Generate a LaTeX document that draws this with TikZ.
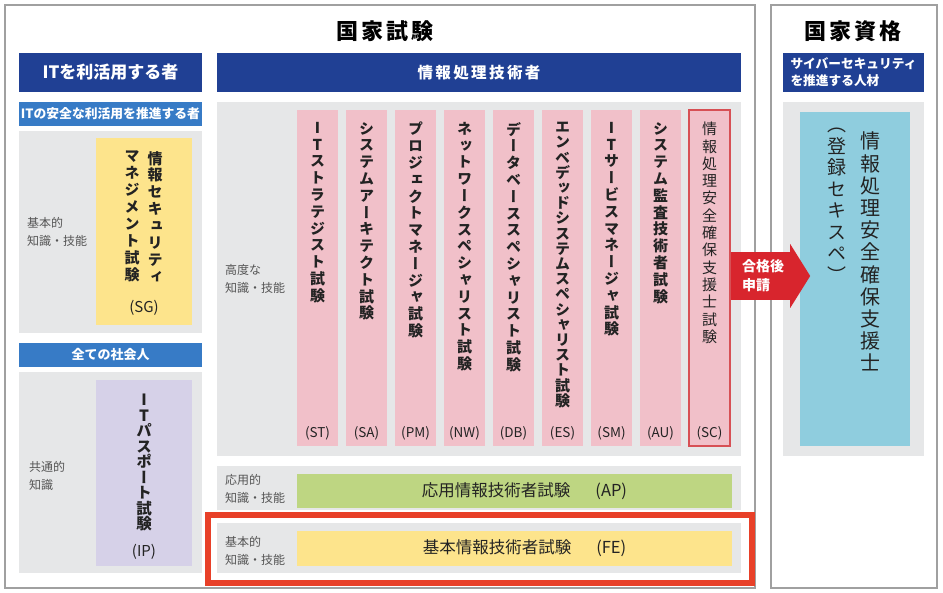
\documentclass[tikz,border=0pt]{standalone}
\usepackage{fontspec}
\setmainfont{Noto Sans CJK JP}
\newfontfamily\tatefont[RawFeature=+vert]{Noto Sans CJK JP}
\usetikzlibrary{positioning}
\usetikzlibrary{shapes.arrows}
\usetikzlibrary{calc}
\definecolor{navy}{RGB}{32,64,148}
\definecolor{skyblue}{RGB}{55,123,198}
\definecolor{panelgray}{RGB}{230,231,232}
\definecolor{framegray}{RGB}{160,160,160}
\definecolor{pinkbox}{RGB}{241,192,201}
\definecolor{yellowbox}{RGB}{253,228,140}
\definecolor{lavbox}{RGB}{214,209,232}
\definecolor{greenbox}{RGB}{190,214,130}
\definecolor{bluebox}{RGB}{143,205,222}
\definecolor{hlred}{RGB}{232,64,40}
\definecolor{arrowred}{RGB}{216,37,45}
\definecolor{scred}{RGB}{215,80,85}
\definecolor{labelgray}{RGB}{85,85,85}
\definecolor{textdark}{RGB}{35,35,35}
% one character per line, for vertical writing
\newcommand\tate[2][16.8pt]{\tatefont\vbox{\baselineskip=#1\relax\lineskiplimit=-100pt\lineskip=0pt\expandafter\tateloop#2\relax}}
\def\tateloop#1{\ifx\relax#1\else\hbox to 1em{\hss#1\hss}\expandafter\tateloop\fi}

\begin{document}
\begin{tikzpicture}[x=1pt, y=-1pt,
        blk/.style={anchor=north west, inner sep=0pt, outer sep=0pt},
        frame/.style={blk, draw=framegray, line width=1.2pt, fill=white},
        vtext/.style={anchor=north, inner sep=0pt, text=textdark},
        code/.style={inner sep=0pt, text=textdark, font=\fontsize{13.5}{14}\selectfont},
        level/.style={anchor=west, inner sep=0pt, align=left, text=labelgray, font=\fontsize{12}{18}\selectfont}]
    \useasboundingbox (0,0) rectangle (943,593);

    % outer frames and titles
    \node [frame, minimum width=750pt, minimum height=583pt] (examFrame) at (5,5) {};
    \node [frame, minimum width=166pt, minimum height=583pt] (qualFrame) at (771,5) {};
    \node [font=\bfseries\fontsize{22}{22}\selectfont] (examTitle) at (385,31) {国\kern3pt 家\kern3pt 試\kern3pt 験};
    \node [font=\bfseries\fontsize{22}{22}\selectfont] (qualTitle) at (853,31) {国\kern3pt 家\kern3pt 資\kern3pt 格};

    % header bars
    \node [blk, fill=navy, text=white, minimum width=183pt, minimum height=39pt, font=\bfseries\fontsize{17}{17}\selectfont]
        (userHead) at (19,53) {ITを利活用する者};
    \node [blk, fill=navy, text=white, minimum width=524pt, minimum height=39pt, font=\bfseries\fontsize{15.5}{16}\selectfont]
        (engHead) at (217,53) {情\kern2.4pt 報\kern2.4pt 処\kern2.4pt 理\kern2.4pt 技\kern2.4pt 術\kern2.4pt 者};
    \node [blk, fill=navy, text=white, minimum width=141pt, minimum height=39pt, align=left, font=\bfseries\fontsize{12.7}{17}\selectfont]
        (cyberHead) at (783,53) {サイバーセキュリティ\\を推進する人材};
    \node [blk, fill=skyblue, text=white, minimum width=183pt, minimum height=24pt, font=\bfseries\fontsize{12.8}{13}\selectfont]
        (safeHead) at (19,102) {ITの安全な利活用を推進する者};
    \node [blk, fill=skyblue, text=white, minimum width=183pt, minimum height=24pt, font=\bfseries\fontsize{13}{13}\selectfont]
        (allHead) at (19,343) {全ての社会人};

    % gray panels
    \node [blk, fill=panelgray, minimum width=183pt, minimum height=202pt] (pSG) at (19,131) {};
    \node [blk, fill=panelgray, minimum width=183pt, minimum height=201pt] (pIP) at (19,372) {};
    \node [blk, fill=panelgray, minimum width=524pt, minimum height=354pt] (pAdv) at (217,102) {};
    \node [blk, fill=panelgray, minimum width=524pt, minimum height=44pt] (pAP) at (217,466) {};
    \node [blk, fill=panelgray, minimum width=524pt, minimum height=50pt] (pFE) at (217,523) {};
    \node [blk, fill=panelgray, minimum width=141pt, minimum height=354pt] (pReg) at (783,102) {};

    \node [level] (lvSG) at (27,232) {基本的\\知識・技能};
    \node [level] (lvIP) at (29,476) {共通的\\知識};
    \node [level] (lvAdv) at (225,279) {高度な\\知識・技能};
    \node [level] (lvAP) at (225,489) {応用的\\知識・技能};
    \node [level] (lvFE) at (225,551) {基本的\\知識・技能};

    % SG and IP
    \node [blk, fill=yellowbox, minimum width=96pt, minimum height=187pt] (bSG) at (96,138) {};
    \node [vtext, font=\bfseries\fontsize{15}{16}\selectfont, below=13pt of bSG.north, xshift=11pt] (nameSG1) {\tate[16.9pt]{情報セキュリティ}};
    \node [vtext, font=\bfseries\fontsize{15}{16}\selectfont, below=13pt of bSG.north, xshift=-12pt] (nameSG2) {\tate[16.9pt]{マネジメント試験}};
    \node [code, font=\fontsize{15}{16}\selectfont] (codeSG) at (144,308) {(SG)};

    \node [blk, fill=lavbox, minimum width=96pt, minimum height=186pt] (bIP) at (96,380) {};
    \node [vtext, font=\bfseries\fontsize{15.5}{16}\selectfont, below=14pt of bIP.north] (nameIP) {\tate[15.5pt]{ITパスポート試験}};
    \node [code, font=\fontsize{15}{16}\selectfont] (codeIP) at (144,552) {(IP)};

    % advanced exams
    \foreach \i/\code/\pitch/\name in {0/ST/16.8/ITストラテジスト試験, 1/SA/16.8/システムアーキテクト試験,
            2/PM/16.8/プロジェクトマネージャ試験, 3/NW/16.8/ネットワークスペシャリスト試験,
            4/DB/16.8/データベーススペシャリスト試験, 5/ES/15.2/エンベデッドシステムスペシャリスト試験,
            6/SM/16.8/ITサービスマネージャ試験, 7/AU/16.8/システム監査技術者試験} {
        \node [blk, fill=pinkbox, minimum width=41pt, minimum height=336pt] (col\code) at ({297+49*\i},110) {};
        \node [vtext, font=\bfseries\fontsize{15}{16}\selectfont, below=12pt of col\code.north] (name\code) {\tate[\pitch pt]{\name}};
        \node [code, above=6pt of col\code.south] (code\code) {(\code)};
    }
    \node [blk, fill=pinkbox, draw=scred, line width=1.2pt, minimum width=41pt, minimum height=336pt] (colSC) at (689,110) {};
    \node [vtext, font=\fontsize{15}{16}\selectfont, below=12pt of colSC.north] (nameSC) {\tate[17.3pt]{情報処理安全確保支援士試験}};
    \node [code, above=6pt of colSC.south] (codeSC) {(SC)};

    % AP and FE
    \node [blk, fill=greenbox, minimum width=435pt, minimum height=34pt] (bAP) at (297,474) {};
    \node [text=textdark, inner sep=0pt, font=\fontsize{16.5}{17}\selectfont] (nameAP) at ($(bAP.center)+(10,0)$) {応用情報技術者試験\hspace{25pt}(AP)};
    \node [blk, fill=yellowbox, minimum width=435pt, minimum height=35pt] (bFE) at (297,531) {};
    \node [text=textdark, inner sep=0pt, font=\fontsize{16.5}{17}\selectfont] (nameFE) at ($(bFE.center)+(10,0)$) {基本情報技術者試験\hspace{25pt}(FE)};
    \node [blk, draw=hlred, line width=6pt, minimum width=544pt, minimum height=68pt] (hlFE) at (208,515) {};

    % registered specialist
    \node [blk, fill=bluebox, minimum width=110pt, minimum height=334pt] (bReg) at (800,112) {};
    \node [vtext, font=\fontsize{20}{22}\selectfont, below=20pt of bReg.north, xshift=15pt] (nameReg1) {\tate[22.2pt]{情報処理安全確保支援士}};
    \node [vtext, font=\fontsize{19}{22}\selectfont, below=16pt of bReg.north, xshift=-18pt] (nameReg2) {\tate[21.5pt]{（登録セキスペ）}};

    \node [single arrow, fill=arrowred, text=white, anchor=tail, align=left, inner xsep=7pt, inner ysep=7.5pt,
        minimum height=79pt, minimum width=64pt, single arrow head extend=8pt, single arrow tip angle=116,
        font=\bfseries\fontsize{14}{19}\selectfont] (apply) at (731,276) {合格後\\申請};
\end{tikzpicture}
\end{document}
